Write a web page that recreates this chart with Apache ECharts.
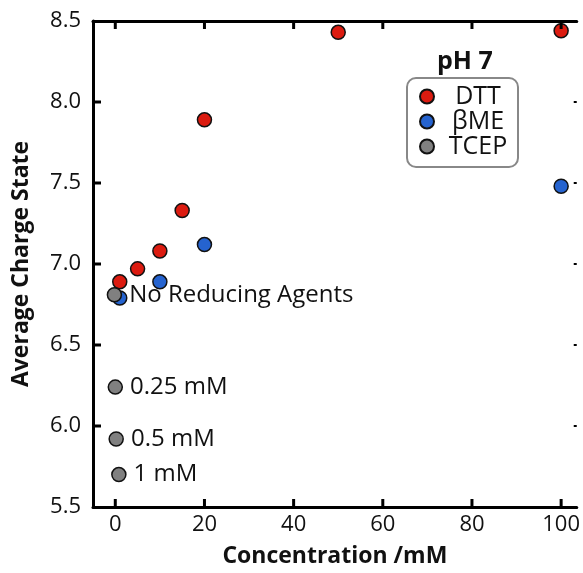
<!DOCTYPE html>
<html>
<head>
<meta charset="utf-8">
<script src="https://cdn.jsdelivr.net/npm/echarts@6/dist/echarts.min.js"></script>
<style>
  html, body { margin: 0; padding: 0; background: #fff; }
  #chart { width: 583px; height: 573px; }
</style>
</head>
<body>
<div id="chart"></div>
<script>
// 数据
var dttX = [1, 5, 10, 15, 20, 50, 100];
var dttY = [6.89, 6.97, 7.08, 7.33, 7.89, 8.43, 8.44];
var bmeX = [1, 10, 20, 100];
var bmeY = [6.79, 6.89, 7.12, 7.48];
var tcepX = [-0.2, 0, 0.2, 0.8];
var tcepY = [6.81, 6.24, 5.92, 5.70];
var tcepNotes = ['No Reducing Agents', '0.25 mM', '0.5 mM', '1 mM'];
var xTicks = [0, 20, 40, 60, 80, 100];
var yTicks = [6.0, 6.5, 7.0, 7.5, 8.0];

var FONT = '"Open Sans", "Noto Sans", sans-serif';
var X_MIN = -5, X_MAX = 103.5, Y_MIN = 5.5, Y_MAX = 8.5;

function pairs(xs, ys) {
    return xs.map(function (x, i) { return [x, ys[i]]; });
}

var tcepData = tcepX.map(function (x, i) {
    return {
        value: [x, tcepY[i]],
        label: {
            show: true,
            position: 'right',
            distance: 7,
            formatter: tcepNotes[i],
            color: '#111',
            fontSize: 24,
            fontFamily: FONT
        }
    };
});

var myChart = echarts.init(document.getElementById('chart'));
myChart.setOption({
    animation: false,
    grid: {   //表格边距
        left: 93,
        top: 21,
        right: 0,
        bottom: 58
    },
    title: {
        text: 'pH 7',
        left: 432,
        top: 44,
        textStyle: { fontSize: 25, fontWeight: 'bold', color: '#111', fontFamily: FONT }
    },
    legend: {
        left: 407,
        top: 78,
        orient: 'vertical',
        icon: 'circle',
        itemWidth: 14,
        itemHeight: 14,
        itemGap: 0,
        padding: [6, 1, 8, 12],
        borderColor: '#888',
        borderWidth: 2,
        borderRadius: 9,
        data: ['DTT', 'βME', 'TCEP'],
        formatter: function (name) { return '{c|' + name + '}'; },
        textStyle: {
            color: '#111',
            fontSize: 25,
            fontFamily: FONT,
            rich: { c: { width: 78, align: 'center', fontSize: 25, lineHeight: 26, fontFamily: FONT, color: '#111' } }
        }
    },
    xAxis: [{
        type: 'value',
        min: X_MIN,
        max: X_MAX,
        position: 'bottom',
        name: 'Concentration /mM',
        nameLocation: 'middle',
        nameGap: 38,
        nameTextStyle: { fontSize: 23, fontWeight: 'bold', color: '#111', fontFamily: FONT },
        axisLine: { show: true, onZero: false, lineStyle: { color: '#000', width: 3 } },
        axisTick: { show: false },
        axisLabel: { fontSize: 22, color: '#111', margin: 7, fontFamily: FONT, customValues: xTicks },
        splitLine: { show: false }
    }, {
        type: 'value',
        position: 'top',
        min: X_MIN,
        max: X_MAX,
        axisLine: { show: true, onZero: false, lineStyle: { color: '#000', width: 3 } },
        axisTick: { show: false },
        axisLabel: { show: false },
        splitLine: { show: false }
    }],
    yAxis: [{
        type: 'value',
        min: Y_MIN,
        max: Y_MAX,
        interval: 0.5,
        position: 'left',
        name: 'Average Charge State',
        nameLocation: 'middle',
        nameGap: 60,
        nameTextStyle: { fontSize: 23, fontWeight: 'bold', color: '#111', fontFamily: FONT },
        axisLine: { show: true, onZero: false, lineStyle: { color: '#000', width: 3 } },
        axisTick: { show: false },
        axisLabel: { fontSize: 22, color: '#111', margin: 12, fontFamily: FONT,
            formatter: function (v) { return v.toFixed(1); } },
        splitLine: { show: false }
    }, {
        type: 'value',
        position: 'right',
        min: Y_MIN,
        max: Y_MAX,
        interval: 0.5,
        axisLine: { show: false, onZero: false },
        axisTick: { show: true, inside: true, length: 3, lineStyle: { color: '#000', width: 2 } },
        axisLabel: { show: false },
        splitLine: { show: false }
    }],
    series: [{
        name: 'TCEP',
        type: 'scatter',
        symbolSize: 14,
        itemStyle: { color: '#808080', borderColor: '#111', borderWidth: 1.5, opacity: 1 },
        data: tcepData,
        z: 3
    }, {
        name: 'βME',
        type: 'scatter',
        symbolSize: 14,
        itemStyle: { color: '#2563cf', borderColor: '#111', borderWidth: 1.5, opacity: 1 },
        data: pairs(bmeX, bmeY),
        z: 2
    }, {
        name: 'DTT',
        type: 'scatter',
        symbolSize: 14,
        itemStyle: { color: '#dc1b10', borderColor: '#111', borderWidth: 1.5, opacity: 1 },
        data: pairs(dttX, dttY),
        z: 2
    }]
});

// 内侧刻度：刻度值经 convertToPixel 换算成像素，再用 graphic 画
var TICK = 8;
var ticks = [];
function tickLine(p, dx, dy) {
    ticks.push({
        type: 'line',
        silent: true,
        z: 100,
        shape: { x1: p[0], y1: p[1], x2: p[0] + dx, y2: p[1] + dy },
        style: { stroke: '#000', lineWidth: 3 }
    });
}
xTicks.forEach(function (x) {
    tickLine(myChart.convertToPixel({ gridIndex: 0 }, [x, Y_MIN]), 0, -TICK);
    tickLine(myChart.convertToPixel({ gridIndex: 0 }, [x, Y_MAX]), 0, TICK);
});
yTicks.forEach(function (y) {
    tickLine(myChart.convertToPixel({ gridIndex: 0 }, [X_MIN, y]), TICK, 0);
});
myChart.setOption({ graphic: ticks });
</script>
</body>
</html>
